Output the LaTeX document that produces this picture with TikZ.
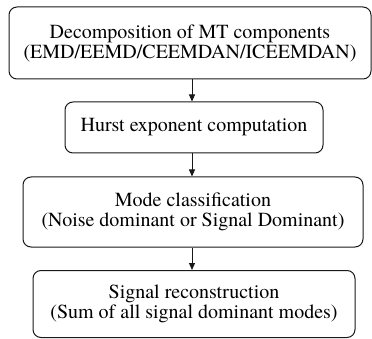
\documentclass[tikz,border=0pt]{standalone}
\usepackage{fontspec}
\newfontfamily\tnr{TeX Gyre Termes}
\usetikzlibrary{arrows.meta}
\begin{document}
\begin{tikzpicture}[x=1pt,y=-1pt,
  box/.style={draw=black!90, line width=1pt, rounded corners=8pt, align=center, inner sep=0pt,
    font={\tnr\fontsize{20}{20}\selectfont}},
  arr/.style={draw=black!90, line width=1pt, -{Triangle[length=7pt,width=6pt]}}]
\useasboundingbox (0,0) rectangle (372,339);
\node[box, minimum width=362pt, minimum height=72pt] (b1) at (190,43) {Decomposition of MT components\\(EMD/EEMD/CEEMDAN/ICEEMDAN)};
\node[box, minimum width=258pt, minimum height=51pt] (b2) at (194,127.5) {Hurst exponent computation};
\node[box, minimum width=340pt, minimum height=70pt] (b3) at (193,212) {Mode classification\\(Noise dominant or Signal Dominant)};
\node[box, minimum width=322pt, minimum height=67pt] (b4) at (194,304) {Signal reconstruction\\(Sum of all signal dominant modes)};
\coordinate (ax) at (192,0);
\draw[arr] (b1.south -| ax) -- (b2.north -| ax);
\draw[arr] (b2.south -| ax) -- (b3.north -| ax);
\draw[arr] (b3.south -| ax) -- (b4.north -| ax);
\end{tikzpicture}
\end{document}
